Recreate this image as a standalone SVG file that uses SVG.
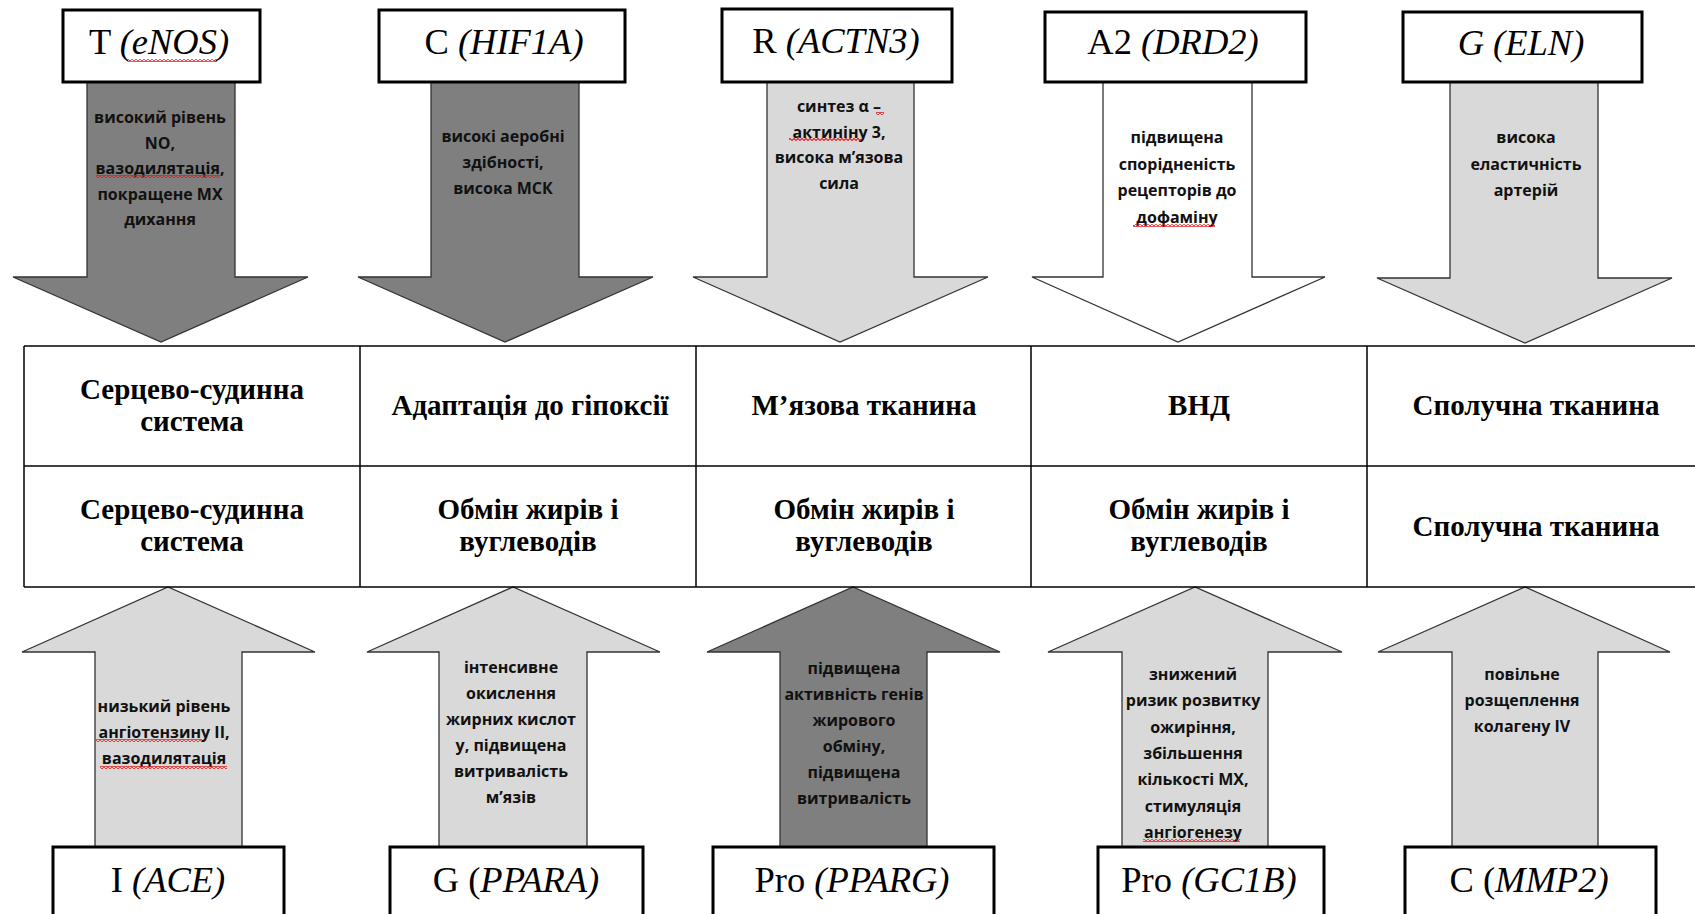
<svg xmlns="http://www.w3.org/2000/svg" width="1695" height="914" viewBox="0 0 1695 914">
<style>
.bg{fill:#ffffff}
.dark{fill:#7f7f7f;stroke:#333;stroke-width:1.3;stroke-linejoin:miter}
.light{fill:#d9d9d9;stroke:#333;stroke-width:1.3}
.white{fill:#ffffff;stroke:#333;stroke-width:1.3}
.box{fill:#ffffff;stroke:#000;stroke-width:3}
.grid{stroke:#000;stroke-width:1.5;fill:none}
.lbl{font-family:"Liberation Serif","Times New Roman",serif;font-size:36.5px;fill:#000;text-anchor:middle}
.it{font-style:italic}
.sm{font-family:"Open Sans","Noto Sans",sans-serif;font-weight:700;font-size:16px;fill:#111;text-anchor:middle}
.tb{font-family:"Liberation Serif","Times New Roman",serif;font-weight:700;font-size:29px;fill:#000;text-anchor:middle}
.sp{fill:url(#wavy)}
</style>
<defs>
<pattern id="wavy" x="0" y="0" width="4" height="3" patternUnits="userSpaceOnUse">
<path d="M0,2.6 L2,0.4 L4,2.6" fill="none" stroke="#e01818" stroke-width="1.1"/>
</pattern>
</defs>
<rect class="bg" x="0" y="0" width="1695" height="914"/>

<g id="connectors">
<!-- top arrows -->
<g id="arrow-eNOS">
<polygon class="dark" points="87,82 235,82 235,277 308,277 161,342 13,277 87,277"/>
<text class="sm"><tspan x="160" y="123">високий рівень</tspan><tspan x="160" y="148.5">NO,</tspan><tspan x="160" y="174">вазодилятація,</tspan><tspan x="160" y="199.5">покращене МХ</tspan><tspan x="160" y="225">дихання</tspan></text>
<rect class="sp" x="96" y="175" width="124" height="3"/>
</g>
<g id="arrow-HIF1A">
<polygon class="dark" points="431,82 579,82 579,277 653,277 505,342 358,277 431,277"/>
<text class="sm"><tspan x="503" y="142">високі аеробні</tspan><tspan x="503" y="168">здібності,</tspan><tspan x="503" y="194">висока МСК</tspan></text>
</g>
<g id="arrow-ACTN3">
<polygon class="light" points="767,82 914,82 914,277 988,277 840,342 693,277 767,277"/>
<text class="sm"><tspan x="839" y="112">синтез α –</tspan><tspan x="839" y="137.5">актиніну 3,</tspan><tspan x="839" y="163">висока м’язова</tspan><tspan x="839" y="188.5">сила</tspan></text>
<rect class="sp" x="876" y="112" width="8" height="3"/>
<rect class="sp" x="789" y="138" width="72" height="3"/>
</g>
<g id="arrow-DRD2">
<polygon class="white" points="1103,82 1252,82 1252,277 1325,277 1178,342 1032,277 1103,277"/>
<text class="sm"><tspan x="1177" y="143">підвищена</tspan><tspan x="1177" y="169.5">спорідненість</tspan><tspan x="1177" y="196">рецепторів до</tspan><tspan x="1177" y="222.5">дофаміну</tspan></text>
<rect class="sp" x="1133" y="224" width="82" height="3"/>
</g>
<g id="arrow-ELN">
<polygon class="light" points="1450,82 1598,82 1598,278 1672,278 1525,343 1377,278 1450,278"/>
<text class="sm"><tspan x="1526" y="143">висока</tspan><tspan x="1526" y="169.5">еластичність</tspan><tspan x="1526" y="196">артерій</tspan></text>
</g>
<!-- bottom arrows -->
<g id="arrow-ACE">
<polygon class="light" points="95,847 95,652 22,652 168,587 315,652 242,652 242,847"/>
<text class="sm"><tspan x="164" y="712">низький рівень</tspan><tspan x="164" y="738">ангіотензину II,</tspan><tspan x="164" y="764">вазодилятація</tspan></text>
<rect class="sp" x="96" y="739" width="106" height="3"/>
<rect class="sp" x="100" y="766" width="127" height="3"/>
</g>
<g id="arrow-PPARA">
<polygon class="light" points="439,847 439,652 367,652 513,587 660,652 587,652 587,847"/>
<text class="sm"><tspan x="511" y="673">інтенсивне</tspan><tspan x="511" y="699">окислення</tspan><tspan x="511" y="725">жирних кислот</tspan><tspan x="511" y="751">у, підвищена</tspan><tspan x="511" y="777">витривалість</tspan><tspan x="511" y="803">м’язів</tspan></text>
</g>
<g id="arrow-PPARG">
<polygon class="dark" points="780,847 780,652 707,652 853,587 1000,652 927,652 927,847"/>
<text class="sm"><tspan x="854" y="674">підвищена</tspan><tspan x="854" y="700">активність генів</tspan><tspan x="854" y="726">жирового</tspan><tspan x="854" y="752">обміну,</tspan><tspan x="854" y="778">підвищена</tspan><tspan x="854" y="804">витривалість</tspan></text>
</g>
<g id="arrow-GC1B">
<polygon class="light" points="1122,847 1122,652 1048,652 1195,587 1342,652 1268,652 1268,847"/>
<text class="sm"><tspan x="1193" y="680">знижений</tspan><tspan x="1193" y="706.3">ризик розвитку</tspan><tspan x="1193" y="732.6">ожиріння,</tspan><tspan x="1193" y="758.9">збільшення</tspan><tspan x="1193" y="785.2">кількості МХ,</tspan><tspan x="1193" y="811.5">стимуляція</tspan><tspan x="1193" y="837.8">ангіогенезу</tspan></text>
<rect class="sp" x="1143" y="839" width="97" height="3"/>
</g>
<g id="arrow-MMP2">
<polygon class="light" points="1452,847 1452,652 1378,652 1525,587 1670,652 1598,652 1598,847"/>
<text class="sm"><tspan x="1522" y="680">повільне</tspan><tspan x="1522" y="706">розщеплення</tspan><tspan x="1522" y="732">колагену IV</tspan></text>
</g>
</g>

<g id="table">
<line class="grid" x1="24" y1="346" x2="1695" y2="346"/>
<line class="grid" x1="24" y1="466" x2="1695" y2="466"/>
<line class="grid" x1="24" y1="587" x2="1695" y2="587"/>
<line class="grid" x1="24" y1="346" x2="24" y2="587"/>
<line class="grid" x1="360" y1="346" x2="360" y2="587"/>
<line class="grid" x1="696" y1="346" x2="696" y2="587"/>
<line class="grid" x1="1031" y1="346" x2="1031" y2="587"/>
<line class="grid" x1="1367" y1="346" x2="1367" y2="587"/>
</g>
<g id="cell-r1c1"><text class="tb"><tspan x="192" y="399">Серцево-судинна</tspan><tspan x="192" y="431">система</tspan></text></g>
<g id="cell-r1c2"><text class="tb" x="530" y="415">Адаптація до гіпоксії</text></g>
<g id="cell-r1c3"><text class="tb" x="864" y="415">М’язова тканина</text></g>
<g id="cell-r1c4"><text class="tb" x="1199" y="415">ВНД</text></g>
<g id="cell-r1c5"><text class="tb" x="1536" y="415">Сполучна тканина</text></g>
<g id="cell-r2c1"><text class="tb"><tspan x="192" y="519">Серцево-судинна</tspan><tspan x="192" y="551">система</tspan></text></g>
<g id="cell-r2c2"><text class="tb"><tspan x="528" y="519">Обмін жирів і</tspan><tspan x="528" y="551">вуглеводів</tspan></text></g>
<g id="cell-r2c3"><text class="tb"><tspan x="864" y="519">Обмін жирів і</tspan><tspan x="864" y="551">вуглеводів</tspan></text></g>
<g id="cell-r2c4"><text class="tb"><tspan x="1199" y="519">Обмін жирів і</tspan><tspan x="1199" y="551">вуглеводів</tspan></text></g>
<g id="cell-r2c5"><text class="tb" x="1536" y="536">Сполучна тканина</text></g>

<!-- top gene boxes -->
<g id="gene-eNOS"><rect class="box" x="63" y="10" width="197" height="72"/><text class="lbl" x="159" y="54">T <tspan class="it">(eNOS)</tspan></text><rect class="sp" x="128" y="59" width="89" height="3"/></g>
<g id="gene-HIF1A"><rect class="box" x="379" y="10" width="246" height="72"/><text class="lbl" x="504" y="54">C <tspan class="it">(HIF1A)</tspan></text></g>
<g id="gene-ACTN3"><rect class="box" x="722" y="9" width="230" height="73"/><text class="lbl" x="836" y="53">R <tspan class="it">(ACTN3)</tspan></text></g>
<g id="gene-DRD2"><rect class="box" x="1045" y="12" width="261" height="70"/><text class="lbl" x="1173" y="54">A2 <tspan class="it">(DRD2)</tspan></text></g>
<g id="gene-ELN"><rect class="box" x="1403" y="12" width="239" height="70"/><text class="lbl it" x="1521" y="55">G (ELN)</text></g>

<!-- bottom gene boxes -->
<g id="gene-ACE"><rect class="box" x="53" y="847" width="231" height="90"/><text class="lbl" x="168" y="892">I <tspan class="it">(ACE)</tspan></text></g>
<g id="gene-PPARA"><rect class="box" x="390" y="847" width="253" height="90"/><text class="lbl" x="516" y="892">G (<tspan class="it">PPARA)</tspan></text></g>
<g id="gene-PPARG"><rect class="box" x="713" y="847" width="281" height="90"/><text class="lbl" x="852" y="892">Pro <tspan class="it">(PPARG)</tspan></text></g>
<g id="gene-GC1B"><rect class="box" x="1098" y="847" width="226" height="90"/><text class="lbl" x="1209" y="892">Pro <tspan class="it">(GC1B)</tspan></text></g>
<g id="gene-MMP2"><rect class="box" x="1405" y="847" width="251" height="90"/><text class="lbl" x="1529" y="892">C (<tspan class="it">MMP2)</tspan></text></g>
</svg>
